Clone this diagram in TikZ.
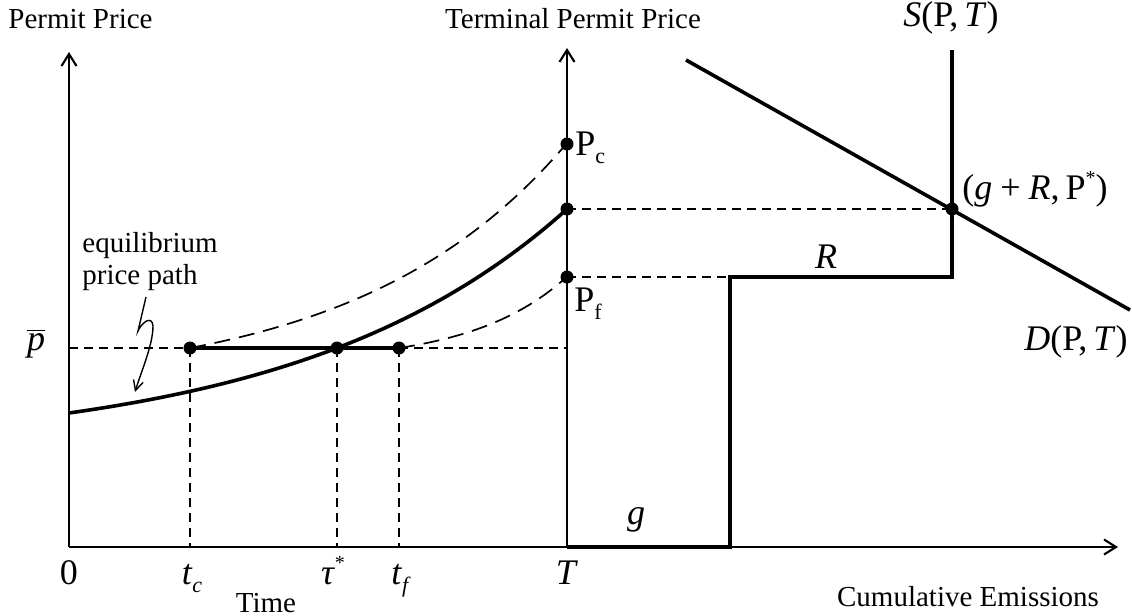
\documentclass[tikz,border=0pt]{standalone}
\usepackage{fontspec}
\setmainfont{Liberation Serif}
\usetikzlibrary{arrows.meta}
\newcommand\sbx[1]{\raisebox{-0.5ex}{\fontsize{11}{11}\selectfont #1}}
\newcommand\spx[1]{\raisebox{0.9ex}{\fontsize{10}{10}\selectfont #1}}
\begin{document}
\begin{tikzpicture}[x=0.5pt,y=-0.5pt,
  axis/.style={line width=1.05pt},
  axarrow/.style={axis,-{Straight Barb[length=6pt,width=7.5pt,line width=1.05pt]}},
  thk/.style={line width=1.8pt},
  dsh/.style={line width=1.05pt,dash pattern=on 4.5pt off 3pt},
  cdsh/.style={line width=0.85pt,dash pattern=on 8pt off 4.5pt},
  dot/.style={circle,fill=black,inner sep=0pt,minimum size=6.5pt},
  txt/.style={font=\fontsize{14.5}{17}\selectfont,inner sep=0pt},
  mth/.style={font=\fontsize{18}{20}\selectfont,inner sep=0pt}]
\useasboundingbox (0,0) rectangle (1132,616);
% coordinates
\coordinate (O) at (69,547);
\coordinate (Ytop) at (69,52);
\coordinate (Xend) at (1118,547);
\coordinate (Tb) at (567,547);
\coordinate (Ttop) at (567,48);
\coordinate (Gr) at (730,547);
\coordinate (Gt) at (730,277);
\coordinate (Rr) at (952,277);
\coordinate (Stop) at (952,50);
\coordinate (Dl) at (686,60);
\coordinate (Dr) at (1130,310);
\coordinate (Pb) at (69,348);
\coordinate (Pbr) at (567,348);
\coordinate (tcb) at (190,547);
\coordinate (tsb) at (337,547);
\coordinate (tfb) at (399,547);
% axes
\draw[axarrow] (O) -- (Ytop);
\draw[axarrow] (O) -- (Xend);
\draw[axarrow] (Tb) -- (Ttop);
% dots
\node[dot] (tc) at (190,348) {};
\node[dot] (ts) at (337,348) {};
\node[dot] (tf) at (399,348) {};
\node[dot] (Pc) at (567,144) {};
\node[dot] (Ps) at (567,209) {};
\node[dot] (Pf) at (567,277) {};
\node[dot] (E) at (952,209) {};
% dashed guides
\draw[dsh] (Pb) -- (Pbr);
\draw[dsh] (tc.center) -- (tcb);
\draw[dsh] (ts.center) -- (tsb);
\draw[dsh] (tf.center) -- (tfb);
\draw[dsh] (Ps.center) -- (E.center);
\draw[dsh] (Pf.center) -- (Gt);
% curves
\draw[thk] plot[domain=69:567,samples=60] (\x,{547-(95.8+38.2*exp(0.003706*(\x-69)))});
\draw[cdsh] plot[domain=190:567,samples=60] (\x,{547-(159+40*exp(0.0048*(\x-190)))});
\draw[cdsh] plot[domain=399:567,samples=40] (\x,{547-(184.2+14.8*exp(0.01048*(\x-399)))});
\draw[thk] (tc.center) -- (tf.center);
% right panel
\draw[thk] (Tb) -- (Gr) -- (Gt) -- (Rr) -- (Stop);
\draw[thk] (Dl) -- (Dr);
% squiggle arrow
\coordinate (sqA) at (146,297);
\coordinate (sqB) at (135,392);
\draw[line width=0.7pt,-{Straight Barb[length=5pt,width=5pt]}] (sqA) -- (138,331) .. controls (142,322) and (152,315) .. (153,326) .. controls (153,345) and (141,372) .. (sqB);
% labels
\node[txt,anchor=base west] (lPP) at (8,28) {Permit Price};
\node[txt,anchor=base] (lTPP) at (573,28) {Terminal Permit Price};
\node[mth,anchor=base] (lS) at (951,26) {\textit{S}(P,\,\textit{T})};
\node[mth,anchor=base west] (lPc) at (575,155) {P\sbx{c}};
\node[mth,anchor=base west] (lE) at (962,199) {(\textit{g}\:+\:\textit{R},\,P\spx{*})};
\node[mth,anchor=base west] (lPf) at (574,311) {P\sbx{f}};
\node[mth,anchor=base] (lR) at (826,268) {\textit{R}};
\node[mth,anchor=base east] (lD) at (1128,350) {\textit{D}(P,\,\textit{T})};
\node[mth,anchor=base] (lp) at (36,350) {$\overline{\mbox{\textit{p}}}$};
\node[mth,anchor=base] (lg) at (636,524) {\textit{g}};
\node[txt,anchor=base west] (leq) at (82,252) {equilibrium};
\node[txt,anchor=base west] (leq2) at (82,284) {price path};
\node[mth,anchor=base] (l0) at (69,584) {0};
\node[mth,anchor=base] (ltc) at (192,584) {\textit{t}\sbx{\textit{c}}};
\node[mth,anchor=base] (lts) at (333,584) {\textit{τ}\spx{*}};
\node[mth,anchor=base] (ltf) at (401,584) {\textit{t}\sbx{\textit{f}}};
\node[mth,anchor=base] (lT) at (567,584) {\textit{T}};
\node[txt,anchor=base] (lTime) at (266,612) {Time};
\node[txt,anchor=base] (lCE) at (968,606) {Cumulative Emissions};
\end{tikzpicture}
\end{document}
